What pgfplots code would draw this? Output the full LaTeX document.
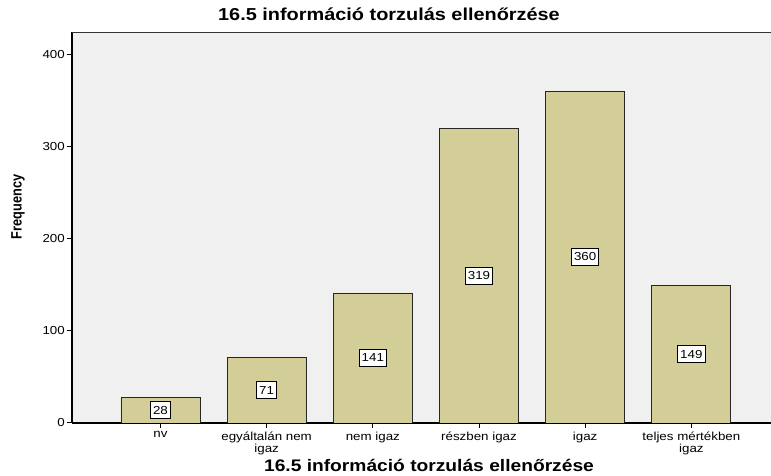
\documentclass[border=0pt]{standalone}
\usepackage{pgfplots}
\pgfplotsset{compat=1.18}
\usepackage{fontspec}
\setmainfont{Liberation Sans}[FakeStretch=1.15]
\newfontfamily\ylabfont{Liberation Sans}[FakeStretch=0.85]
\definecolor{barfill}{RGB}{211,206,151}
\definecolor{plotbg}{RGB}{240,240,240}
\begin{document}
\begin{tikzpicture}[x=1pt,y=1pt]
\path[use as bounding box] (0,0) rectangle (771,476);
\begin{axis}[
  at={(72pt,53pt)}, anchor=south west,
  scale only axis, width=699pt, height=391pt,
  xmin=-0.833, xmax=5.75, ymin=0, ymax=424,
  axis background/.style={fill=plotbg},
  axis x line*=bottom, axis y line*=left,
  axis line style={line width=1.3pt, black, -},
  ytick={0,100,200,300,400},
  xtick={0,1,2,3,4,5},
  xticklabels={nv, {egyáltalán nem\\igaz}, nem igaz, részben igaz, igaz, {teljes mértékben\\igaz}},
  xticklabel style={align=center, font=\fontsize{11.6}{12}\selectfont, inner sep=1pt, yshift=-2.5pt},
  yticklabel style={font=\fontsize{11.6}{12}\selectfont, inner sep=2pt},
  /pgf/number format/assume math mode=true,
  tick align=outside, major tick length=5pt,
  tick style={black, line width=1pt},
  title={16.5 információ torzulás ellenőrzése},
  every axis title/.style={at={(axis description cs:0.4535,1.046)}, anchor=center, font=\bfseries\fontsize{17.3}{18}\selectfont},
  xlabel={16.5 információ torzulás ellenőrzése},
  every axis x label/.style={at={(axis description cs:0.5107,-0.1074)}, anchor=center, font=\bfseries\fontsize{16.7}{18}\selectfont},
  ylabel={Frequency},
  every axis y label/.style={at={(axis description cs:-0.0773,0.5524)}, rotate=90, anchor=center, font=\ylabfont\bfseries\fontsize{15}{16}\selectfont},
]
\addplot[ybar, bar width=0.744, bar shift=0pt, fill=barfill, draw=black!85, line width=0.9pt]
  coordinates {(0,28) (1,71) (2,141) (3,319) (4,360) (5,149)};
\addplot[draw=none, mark=none, nodes near coords, point meta=explicit symbolic,
  nodes near coords style={anchor=center, fill=white, draw=black, line width=0.7pt,
    font=\fontsize{11.6}{12}\selectfont, inner xsep=2.5pt, minimum height=17pt}]
  coordinates {(0,14)[28] (1,35.5)[71] (2,70.5)[141] (3,159.5)[319] (4,180)[360] (5,74.5)[149]};
\draw[line width=0.8pt, black!80] (rel axis cs:0,1) -- (rel axis cs:1,1);
\end{axis}
\end{tikzpicture}
\end{document}
